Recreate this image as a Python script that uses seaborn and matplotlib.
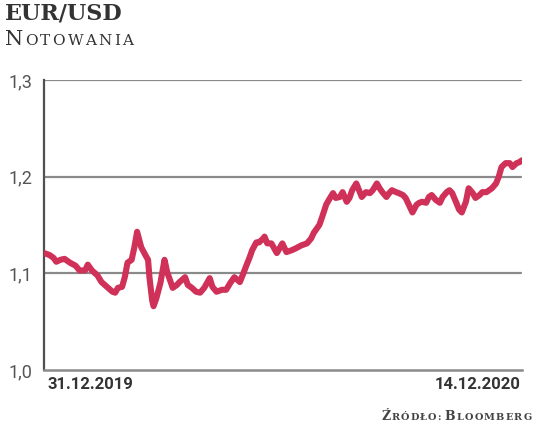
import matplotlib
matplotlib.use("Agg")
import matplotlib.pyplot as plt
import seaborn as sns
import pandas as pd
import numpy as np

# Data: days since 31.12.2019 and EUR/USD rate
days = [0, 4, 7, 9, 12, 15, 19, 23, 26, 30, 32, 35, 39, 42, 46, 50, 52, 54, 57, 59,
        61, 64, 66, 68, 71, 74, 76, 77, 79, 80, 82, 85, 88, 90, 92, 94, 97, 99, 103, 105,
        108, 111, 114, 117, 121, 123, 126, 130, 133, 136, 139, 143, 145, 148, 150, 152, 155, 157, 160, 161,
        163, 166, 170, 172, 174, 177, 181, 184, 188, 192, 195, 197, 201, 203, 206, 208, 211, 213, 216, 218,
        221, 223, 225, 228, 230, 232, 235, 238, 240, 243, 245, 247, 250, 252, 254, 257, 259, 262, 264, 267,
        269, 272, 274, 276, 279, 281, 283, 286, 289, 291, 294, 296, 298, 301, 303, 305, 308, 310, 313, 315,
        318, 320, 323, 325, 327, 330, 332, 334, 337, 340, 342, 345, 347, 349]
rates = [1.121, 1.119, 1.116, 1.112, 1.114, 1.115, 1.111, 1.108, 1.103, 1.103, 1.109, 1.103, 1.098, 1.091, 1.086, 1.081, 1.080, 1.085, 1.086, 1.096,
         1.111, 1.114, 1.127, 1.143, 1.127, 1.119, 1.114, 1.096, 1.072, 1.066, 1.074, 1.090, 1.114, 1.101, 1.093, 1.085, 1.088, 1.091, 1.096, 1.088,
         1.085, 1.081, 1.080, 1.085, 1.095, 1.086, 1.081, 1.083, 1.083, 1.090, 1.096, 1.091, 1.098, 1.109, 1.116, 1.124, 1.132, 1.132, 1.136, 1.138,
         1.131, 1.131, 1.121, 1.126, 1.131, 1.122, 1.124, 1.126, 1.129, 1.131, 1.136, 1.142, 1.150, 1.158, 1.171, 1.176, 1.183, 1.178, 1.179, 1.184,
         1.174, 1.178, 1.186, 1.193, 1.186, 1.179, 1.184, 1.183, 1.186, 1.193, 1.188, 1.184, 1.179, 1.183, 1.186, 1.184, 1.183, 1.181, 1.178, 1.169,
         1.163, 1.171, 1.173, 1.174, 1.173, 1.179, 1.181, 1.176, 1.173, 1.179, 1.184, 1.186, 1.183, 1.173, 1.166, 1.163, 1.174, 1.188, 1.183, 1.178,
         1.181, 1.184, 1.184, 1.186, 1.188, 1.193, 1.200, 1.210, 1.214, 1.214, 1.210, 1.214, 1.215, 1.217]
start_date = pd.Timestamp("2019-12-31")
y_ticks = [1.0, 1.1, 1.2, 1.3]
y_tick_labels = ["1,0", "1,1", "1,2", "1,3"]
x_labels = ["31.12.2019", "14.12.2020"]

df = pd.DataFrame({"date": start_date + pd.to_timedelta(days, unit="D"), "rate": rates})

sns.set_theme(style="white")
plt.rcParams["font.family"] = ["Roboto", "DejaVu Sans"]

fig = plt.figure(figsize=(5.36, 4.29), dpi=100)
ax = fig.add_axes([0.082, 0.1375, 0.892, 0.676])

line_color = "#cf3158"
sns.lineplot(data=df, x="date", y="rate", ax=ax, color=line_color, linewidth=4.4,
             solid_capstyle="round", solid_joinstyle="round", zorder=3)

ax.set_xlim(df["date"].iloc[0], df["date"].iloc[-1])
ax.set_ylim(1.0, 1.3)
ax.set_yticks(y_ticks)
ax.set_yticklabels(y_tick_labels, fontsize=13, color="#555555")
ax.tick_params(axis="y", length=0, pad=8)
ax.set_xticks([])
ax.set_xlabel("")
ax.set_ylabel("")

for t in y_ticks[1:]:
    ax.axhline(t, color="#8a8a8a", linewidth=1.6, zorder=1, xmax=0.998)

for s in ["top", "right"]:
    ax.spines[s].set_visible(False)
ax.spines["left"].set_color("#505050")
ax.spines["left"].set_linewidth(1.6)
ax.spines["bottom"].set_color("#8a8a8a")
ax.spines["bottom"].set_linewidth(1.8)

# x labels
ax.text(0.008, -0.025, x_labels[0], transform=ax.transAxes, ha="left", va="top",
        fontsize=12, fontweight="bold", color="#333333")
ax.text(0.997, -0.025, x_labels[1], transform=ax.transAxes, ha="right", va="top",
        fontsize=12, fontweight="bold", color="#333333")

# Title
fig.text(5 / 536, 1 - 20 / 429, "EUR/USD", fontsize=16, fontweight="bold",
         family="DejaVu Serif", color="#333333", va="baseline", ha="left")

renderer = fig.canvas.get_renderer()

def small_caps(x_px, y_px, pieces, tracking, weight="normal", color="#333333"):
    x = x_px
    for txt, size in pieces:
        for ch in txt:
            if ch == " ":
                x += size * 0.35
                continue
            t = fig.text(x / 536, 1 - y_px / 429, ch, fontsize=size, family="DejaVu Serif",
                         fontweight=weight, color=color, va="baseline", ha="left")
            bb = t.get_window_extent(renderer=renderer)
            x += bb.width + tracking

small_caps(5, 45, [("N", 15), ("OTOWANIA", 11)], tracking=2.2)
small_caps(381, 420, [("Ź", 9), ("RÓDŁO:", 7), (" ", 7), ("B", 9), ("LOOMBERG", 7)],
           tracking=1.2, weight="bold", color="#444444")

fig.savefig("out.png", dpi=100)
